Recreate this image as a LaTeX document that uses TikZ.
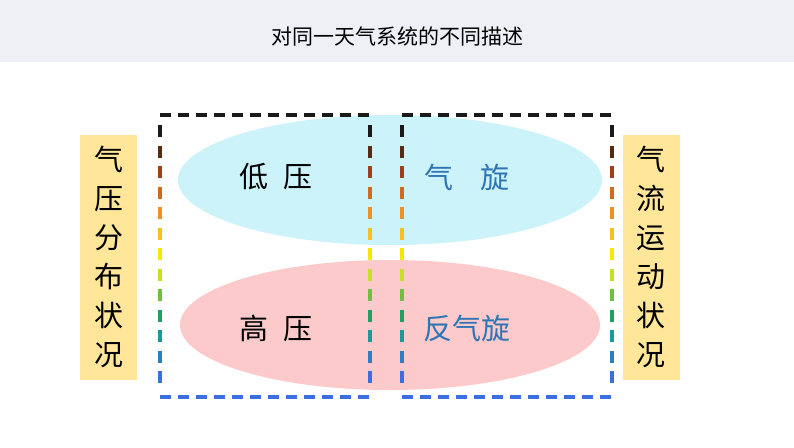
\documentclass[tikz,border=0pt]{standalone}
\usepackage{fontspec}
\newfontfamily\cjk{Noto Sans CJK SC}
\definecolor{bar}{HTML}{EEF0F6}
\definecolor{cyanfill}{HTML}{CCF2FA}
\definecolor{pinkfill}{HTML}{FCCACA}
\definecolor{yel}{HTML}{FFE699}
\definecolor{tblue}{HTML}{2E75B6}
\definecolor{dblue}{HTML}{3A6FE0}
\definecolor{c1}{HTML}{1A1A1A}
\definecolor{c2}{HTML}{5A2A10}
\definecolor{c3}{HTML}{A0401A}
\definecolor{c4}{HTML}{D2691E}
\definecolor{c5}{HTML}{F09020}
\definecolor{c6}{HTML}{F8C020}
\definecolor{c7}{HTML}{F8E800}
\definecolor{c8}{HTML}{C8E020}
\definecolor{c9}{HTML}{70C040}
\definecolor{c10}{HTML}{20A060}
\definecolor{c11}{HTML}{1A9A9A}
\definecolor{c12}{HTML}{2A80C0}
\definecolor{c13}{HTML}{3A6FE0}
\begin{document}
\begin{tikzpicture}[x=1pt,y=-1pt,
  big/.style={font=\cjk\fontsize{29}{34}\selectfont},
  side/.style={fill=yel,minimum width=57pt,minimum height=245pt,inner sep=0pt,align=center,font=\cjk\fontsize{29}{39}\selectfont},
  dl/.style={line width=3.4pt,dash pattern=on 11pt off 7pt}]
\useasboundingbox (0,0) rectangle (794,447);
\fill[white] (0,0) rectangle (794,447);
\fill[bar] (0,0) rectangle (794,62);
\node[font=\cjk\fontsize{21}{24}\selectfont] (title) at (397,36) {对同一天气系统的不同描述};
\fill[cyanfill] (390,180) ellipse [x radius=212pt, y radius=65pt];
\fill[pinkfill] (390,325) ellipse [x radius=210pt, y radius=65pt];
\node[big] (dy) at (276,177) {低\hspace{0.5em}压};
\node[big,text=tblue] (qx) at (467,177) {气\hspace{0.9em}旋};
\node[big] (gy) at (276,328) {高\hspace{0.5em}压};
\node[big,text=tblue] (fq) at (467,328) {反气旋};
\node[side] (L) at (108.5,257) {气\\压\\分\\布\\状\\况};
\node[side] (R) at (651,257) {气\\流\\运\\动\\状\\况};
\foreach \x in {160,370,402,612}{
  \foreach \c [count=\i from 0] in {c1,c2,c3,c4,c5,c6,c7,c8,c9,c10,c11,c12,c13}{
    \draw[line width=3.4pt,\c] (\x,{125+\i*20.5}) -- (\x,{137+\i*20.5});
  }
}
\draw[dl,c1] (160,115) -- (370,115);
\draw[dl,c1] (402,115) -- (612,115);
\draw[dl,dblue] (160,397) -- (370,397);
\draw[dl,dblue] (402,397) -- (612,397);
\end{tikzpicture}
\end{document}
